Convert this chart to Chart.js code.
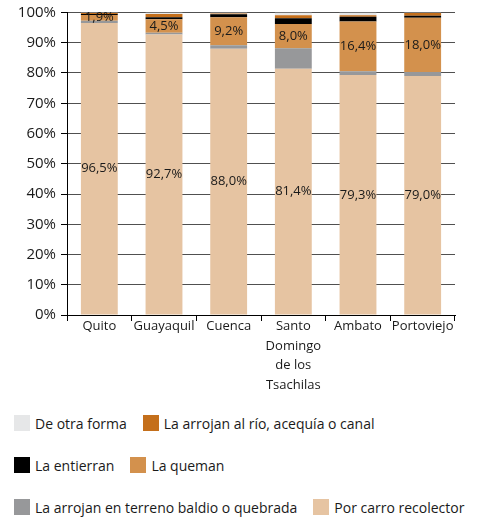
<!DOCTYPE html>
<html>
<head>
<meta charset="utf-8">
<script src="https://cdn.jsdelivr.net/npm/chart.js@4.4.1/dist/chart.umd.min.js"></script>
<style>
  body { margin: 0; background: #fff; font-family: "Open Sans", sans-serif; }
  #wrap { position: relative; width: 480px; height: 519px; }
  #legend { position: absolute; left: 14px; top: 402px; color: #1a1a1a; font-size: 14px; }
  .row { display: flex; align-items: center; height: 42px; gap: 16px; }
  .item { display: flex; align-items: center; white-space: nowrap; }
  .box { width: 16px; height: 16px; margin-right: 5px; }
</style>
</head>
<body>
<div id="wrap">
  <canvas id="chart" width="480" height="400"></canvas>
  <div id="legend"></div>
</div>
<script>
// カテゴリ（都市）
const cities = ["Quito", "Guayaquil", "Cuenca", ["Santo", "Domingo", "de los", "Tsachilas"], "Ambato", "Portoviejo"];

// 各処理方法の割合（%）— 下から積み上げ順
const carroRecolector = [96.5, 92.7, 88.0, 81.4, 79.3, 79.0];
const terrenoBaldio = [0.8, 0.6, 1.2, 6.8, 1.3, 1.3];
const laQueman = [1.9, 4.5, 9.2, 8.0, 16.4, 18.0];
const laEntierran = [0.3, 0.6, 1.0, 1.9, 1.6, 0.6];
const alRio = [0.3, 1.1, 0.3, 1.0, 0.5, 0.9];
const otraForma = [0.2, 0.5, 0.3, 0.9, 0.9, 0.2];

// Y軸の目盛り
const yTicks = [0, 10, 20, 30, 40, 50, 60, 70, 80, 90, 100];

// ラベルを表示するデータセット
const labelled = ["Por carro recolector", "La queman"];

// 区間の中央に値を描くプラグイン
const segmentLabels = {
  id: "segmentLabels",
  afterDatasetsDraw(chart) {
    const ctx = chart.ctx;
    ctx.save();
    ctx.font = "13px 'Open Sans'";
    ctx.fillStyle = "#1a1a1a";
    ctx.textAlign = "center";
    ctx.textBaseline = "middle";
    chart.data.datasets.forEach((ds, i) => {
      if (!labelled.includes(ds.label)) return;
      chart.getDatasetMeta(i).data.forEach((bar, j) => {
        const text = ds.data[j].toFixed(1).replace(".", ",") + "%";
        ctx.fillText(text, bar.x, (bar.y + bar.base) / 2);
      });
    });
    ctx.restore();
  },
};

const ctx = document.getElementById("chart").getContext("2d");
const chart = new Chart(ctx, {
  type: "bar",
  data: {
    labels: cities,
    datasets: [
      { label: "Por carro recolector", data: carroRecolector, backgroundColor: "#e6c4a2" },
      { label: "La arrojan en terreno baldio o quebrada", data: terrenoBaldio, backgroundColor: "#97989a" },
      { label: "La queman", data: laQueman, backgroundColor: "#d3914d" },
      { label: "La entierran", data: laEntierran, backgroundColor: "#000000" },
      { label: "La arrojan al río, acequía o canal", data: alRio, backgroundColor: "#c46f1b" },
      { label: "De otra forma", data: otraForma, backgroundColor: "#e6e7e8" },
    ],
  },
  options: {
    responsive: false,
    animation: false,
    devicePixelRatio: 1,
    layout: { padding: { top: 11, right: 25, left: 0, bottom: 0 } },
    datasets: { bar: { barPercentage: 0.57, categoryPercentage: 1 } },
    plugins: { legend: { display: false }, tooltip: { enabled: false } },
    scales: {
      x: {
        stacked: true,
        offset: true,
        grid: { offset: true, drawOnChartArea: false, drawTicks: true, tickLength: 6, tickColor: "#000" },
        border: { color: "#000" },
        ticks: { color: "#1a1a1a", font: { family: "Open Sans", size: 13, lineHeight: 1.5 }, padding: -4, maxRotation: 0, autoSkip: false },
        afterFit: (s) => { s.height = 85; },
      },
      y: {
        stacked: true,
        min: 0,
        max: 100,
        afterBuildTicks: (s) => { s.ticks = yTicks.map((v) => ({ value: v })); },
        grid: { color: "#505050", tickColor: "#000", tickLength: 6 },
        border: { color: "#000" },
        ticks: { color: "#1a1a1a", font: { family: "Open Sans", size: 15, lineHeight: 1 }, padding: 5, callback: (v) => v + "%" },
        afterFit: (s) => { s.width = 67; },
      },
    },
  },
  plugins: [segmentLabels],
});

// 凡例（HTML）— データセットの逆順で2項目ずつ並べる
const legendEl = document.getElementById("legend");
const items = chart.data.datasets.slice().reverse();
for (let r = 0; r < items.length; r += 2) {
  const row = document.createElement("div");
  row.className = "row";
  items.slice(r, r + 2).forEach((ds) => {
    const item = document.createElement("div");
    item.className = "item";
    item.innerHTML = '<span class="box" style="background:' + ds.backgroundColor + '"></span><span>' + ds.label + "</span>";
    row.appendChild(item);
  });
  legendEl.appendChild(row);
}
</script>
</body>
</html>
